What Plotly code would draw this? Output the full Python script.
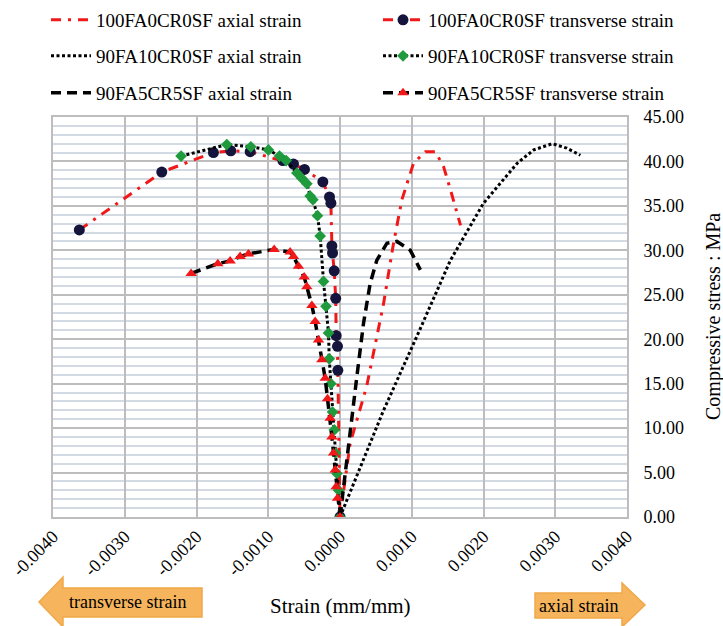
import plotly.graph_objects as go

# ---------------- data ----------------
x_tick_vals = [-0.004, -0.003, -0.002, -0.001, 0.0, 0.001, 0.002, 0.003, 0.004]
x_tick_text = ["-0.0040", "-0.0030", "-0.0020", "-0.0010", "0.0000", "0.0010", "0.0020", "0.0030", "0.0040"]
y_tick_vals = [0, 5, 10, 15, 20, 25, 30, 35, 40, 45]
y_tick_text = ["0.00", "5.00", "10.00", "15.00", "20.00", "25.00", "30.00", "35.00", "40.00", "45.00"]

# 100FA0CR0SF axial strain
a100_strain = [0.0, 0.000142, 0.000372, 0.000607, 0.000746, 0.000863, 0.001025, 0.00119, 0.00133, 0.001444, 0.00154, 0.00168]
a100_stress = [0.0, 8.3, 14.7, 24.0, 30.8, 35.7, 39.8, 41.1, 41.1, 39.4, 36.8, 32.8]

# 90FA10CR0SF axial strain
a90_10_strain = [0.0, 0.000607, 0.00107, 0.00154, 0.0020, 0.00247, 0.0027, 0.00296, 0.00316, 0.00335]
a90_10_stress = [0.0, 12.0, 20.3, 28.9, 35.3, 39.8, 41.3, 42.0, 41.5, 40.7]

# 90FA5CR5SF axial strain
a90_5_strain = [0.0, 0.000119, 0.000235, 0.000328, 0.000421, 0.000514, 0.000654, 0.000793, 0.00098, 0.00112]
a90_5_stress = [0.0, 8.3, 15.8, 21.8, 26.3, 28.9, 30.8, 31.0, 30.0, 27.8]

# 100FA0CR0SF transverse strain
t100_strain = [-0.003633, -0.002484, -0.001764, -0.001522, -0.001252, -0.000797, -0.000648, -0.000495,
               -0.000239, -0.000146, -0.000127, -0.000113, -0.000104, -0.000081, -0.000060, -0.000053,
               -0.000035, -0.000030, 0.0]
t100_stress = [32.3, 38.8, 41.0, 41.2, 41.1, 40.1, 39.7, 39.1,
               37.7, 36.0, 35.3, 30.5, 29.7, 27.7, 24.6, 20.4,
               19.2, 16.5, 0.0]

# 90FA10CR0SF transverse strain
t90_10_strain = [-0.002215, -0.001578, -0.001243, -0.000997, -0.000843, -0.000750, -0.000601, -0.000532,
                 -0.000462, -0.000416, -0.000378, -0.000314, -0.000276, -0.000230, -0.000195, -0.000160,
                 -0.000150, -0.000127, -0.000104, -0.000080, -0.000062, -0.000043, -0.000020, 0.0]
t90_10_stress = [40.6, 41.9, 41.65, 41.3, 40.6, 40.1, 38.7, 38.1,
                 37.5, 36.1, 35.7, 33.9, 31.6, 26.5, 23.7, 20.7,
                 17.8, 15.0, 11.8, 9.8, 7.2, 4.9, 3.0, 0.0]

# 90FA5CR5SF transverse strain
t90_5_strain = [-0.002075, -0.001703, -0.001531, -0.001392, -0.001276, -0.000918, -0.000695, -0.000648,
                -0.000579, -0.000499, -0.000462, -0.000392, -0.000346, -0.000300, -0.000253, -0.000206,
                -0.000174, -0.000137, -0.000113, -0.000090, -0.000067, -0.000053, -0.000035, 0.0]
t90_5_stress = [27.4, 28.5, 28.8, 29.3, 29.6, 30.1, 29.8, 29.3,
                28.2, 27.0, 25.9, 23.8, 22.0, 19.9, 17.7, 15.6,
                13.3, 11.1, 9.0, 7.2, 5.3, 3.4, 2.1, 0.0]

# ---------------- layout helpers ----------------
W, H = 723, 626
L, R, T, B = 53, 627, 117, 517
FONT = "Liberation Serif, Times New Roman, Times, serif"


def px(xp):
    return (xp - L) / (R - L)


def py(yp):
    return (B - yp) / (B - T)


RED = "#f01818"
NAVY = "#14143c"
GREEN = "#1f9a3c"
DASHDOT = "10px,7px,3px,7px"
DOTTED = "3px,2.5px"
DASHED = "10px,6px"

fig = go.Figure()

fig.add_trace(go.Scatter(x=a100_strain, y=a100_stress, mode="lines", name="100FA0CR0SF axial strain",
                         line=dict(color=RED, width=3, dash=DASHDOT), legend="legend"))
fig.add_trace(go.Scatter(x=t100_strain, y=t100_stress, mode="lines+markers", name="100FA0CR0SF transverse strain",
                         line=dict(color=RED, width=3, dash=DASHDOT),
                         marker=dict(symbol="circle", size=11, color=NAVY), legend="legend2"))
fig.add_trace(go.Scatter(x=a90_10_strain, y=a90_10_stress, mode="lines", name="90FA10CR0SF axial strain",
                         line=dict(color="black", width=3, dash=DOTTED), legend="legend3"))
fig.add_trace(go.Scatter(x=t90_10_strain, y=t90_10_stress, mode="lines+markers", name="90FA10CR0SF transverse strain",
                         line=dict(color="black", width=3, dash=DOTTED),
                         marker=dict(symbol="diamond", size=9, color=GREEN), legend="legend4"))
fig.add_trace(go.Scatter(x=a90_5_strain, y=a90_5_stress, mode="lines", name="90FA5CR5SF axial strain",
                         line=dict(color="black", width=3.5, dash=DASHED), legend="legend5"))
fig.add_trace(go.Scatter(x=t90_5_strain, y=t90_5_stress, mode="lines+markers", name="90FA5CR5SF transverse strain",
                         line=dict(color="black", width=3.5, dash=DASHED),
                         marker=dict(symbol="triangle-up", size=10, color=RED), legend="legend6"))

leg_common = dict(orientation="h", xanchor="left", yanchor="middle",
                  font=dict(family=FONT, size=19, color="black"),
                  bgcolor="rgba(0,0,0,0)", itemwidth=40)

# arrows
left_arrow = [(39, 602), (63, 577), (63, 588), (202, 588), (202, 617), (63, 617), (63, 627)]
right_arrow = [(535, 593), (622, 593), (622, 583), (645, 605), (622, 627), (622, 618), (535, 618)]


def path_of(pts):
    return "M " + " L ".join(f"{px(a):.5f},{py(b):.5f}" for a, b in pts) + " Z"


shapes = []
for pts in (left_arrow, right_arrow):
    shapes.append(dict(type="path", xref="paper", yref="paper", path=path_of(pts),
                       fillcolor="#f6b55c", line=dict(color="#f0a848", width=1.5), layer="above"))

annotations = [
    dict(text="transverse strain", x=px(127), y=py(602), xref="paper", yref="paper", showarrow=False,
         font=dict(family=FONT, size=18, color="black"), xanchor="center", yanchor="middle"),
    dict(text="axial strain", x=px(578), y=py(606), xref="paper", yref="paper", showarrow=False,
         font=dict(family=FONT, size=18, color="black"), xanchor="center", yanchor="middle"),
    dict(text="Strain (mm/mm)", x=px(340), y=py(606), xref="paper", yref="paper", showarrow=False,
         font=dict(family=FONT, size=21, color="black"), xanchor="center", yanchor="middle"),
    dict(text="Compressive stress : MPa", x=px(713), y=py(317), xref="paper", yref="paper", showarrow=False,
         textangle=-90, font=dict(family=FONT, size=20, color="black"), xanchor="center", yanchor="middle"),
]

col1, col2 = 46, 378
rows = [20, 56, 93]

fig.update_layout(
    width=W, height=H,
    margin=dict(l=L, r=W - R, t=T, b=H - B, autoexpand=False),
    paper_bgcolor="white", plot_bgcolor="white",
    showlegend=True,
    legend=dict(x=px(col1), y=py(rows[0]), **leg_common),
    legend2=dict(x=px(col2), y=py(rows[0]), **leg_common),
    legend3=dict(x=px(col1), y=py(rows[1]), **leg_common),
    legend4=dict(x=px(col2), y=py(rows[1]), **leg_common),
    legend5=dict(x=px(col1), y=py(rows[2]), **leg_common),
    legend6=dict(x=px(col2), y=py(rows[2]), **leg_common),
    shapes=shapes,
    annotations=annotations,
    xaxis=dict(range=[-0.004, 0.004], tickvals=x_tick_vals, ticktext=x_tick_text, tickangle=-45,
               showgrid=True, gridcolor="#bdbdbd", gridwidth=2, zeroline=False,
               showline=True, linecolor="#bdbdbd", linewidth=2, mirror=True,
               ticks="", tickfont=dict(family=FONT, size=18, color="black")),
    yaxis=dict(range=[0, 45], tickvals=y_tick_vals, ticktext=y_tick_text, side="right",
               showgrid=True, gridcolor="#bdbdbd", gridwidth=2, zeroline=False,
               showline=True, linecolor="#bdbdbd", linewidth=2, mirror=True,
               ticks="", ticklabelstandoff=11, tickfont=dict(family=FONT, size=18, color="black"),
               minor=dict(dtick=1, showgrid=True, gridcolor="#d3dae3", gridwidth=1.5)),
)

fig.write_html("out.html", config={"displayModeBar": False},
               post_script="document.body.style.margin='0px';")
